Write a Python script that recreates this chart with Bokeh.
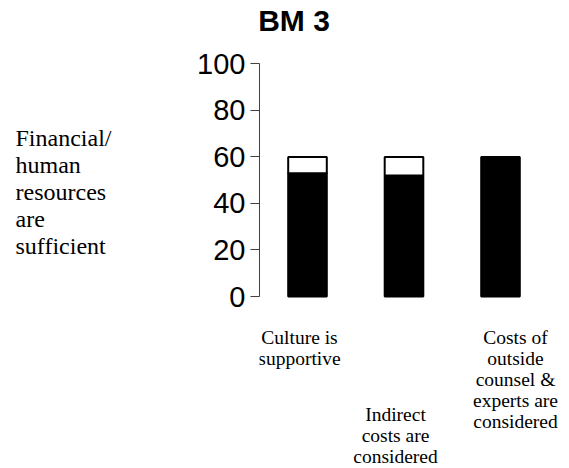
from bokeh.plotting import figure
from bokeh.layouts import row
from bokeh.models import Range1d, FixedTicker, Label, ColumnDataSource
from bokeh.core.properties import value
from bokeh.embed import file_html
from bokeh.resources import INLINE

# ---- data ----
title_text = "BM 3"
row_label = "Financial/\nhuman\nresources\nare\nsufficient"
categories = ["Culture is\nsupportive",
              "Indirect\ncosts are\nconsidered",
              "Costs of\noutside\ncounsel &\nexperts are\nconsidered"]
lower = [53, 52, 60]     # black part
upper = [7, 8, 0]        # white part
y_ticks = [0, 20, 40, 60, 80, 100]

# ---- layout (pixels) ----
H = 468
LW = 190                 # width of the left text panel
W = 569 - LW             # width of the chart panel
LEFT = 69                # space for the y axis inside chart panel
XPX = 96.5               # px per category step
YPX = 2.327              # px per y unit
X0 = -48 / XPX
X1 = X0 + (W - LEFT) / XPX
Y1 = 100 + 63.3 / YPX
Y0 = Y1 - H / YPX


def fx(px):
    return X0 + (px - LEFT) / XPX


def fy(py):
    return Y1 - py / YPX


# ---- left panel with the row label ----
lp = figure(width=LW, height=H, output_backend="svg", toolbar_location=None,
            x_range=Range1d(0, LW), y_range=Range1d(H, 0),
            min_border_left=0, min_border_right=0, min_border_top=0,
            min_border_bottom=0, x_axis_location=None, y_axis_location=None)
lp.grid.visible = False
lp.outline_line_color = None
lp.text(x=[15], y=[124.5], text=[row_label],
        text_font=value("Liberation Serif"), text_font_size="24px",
        text_align="left", text_baseline="top", text_line_height=1.04,
        text_color="black")

# ---- chart panel ----
p = figure(width=W, height=H, output_backend="svg", toolbar_location=None,
           x_range=Range1d(X0, X1), y_range=Range1d(Y0, Y1),
           min_border_left=LEFT, min_border_right=0, min_border_top=0,
           min_border_bottom=0, x_axis_location=None)
p.grid.visible = False
p.outline_line_color = None

xs = list(range(len(categories)))
src = ColumnDataSource(dict(x=xs, lower=lower, upper=upper))
p.vbar_stack(["lower", "upper"], x="x", width=0.4, source=src,
             fill_color=["black", "white"], line_color="black", line_width=2)

yax = p.yaxis[0]
yax.bounds = (0, 100)
yax.ticker = FixedTicker(ticks=y_ticks)
yax.minor_tick_in = 0
yax.minor_tick_out = 0
yax.major_tick_in = 0
yax.major_tick_out = 9
yax.major_label_standoff = 5
yax.major_label_text_font = "Liberation Sans"
yax.major_label_text_font_size = "29px"
yax.major_label_text_color = "black"
yax.axis_line_color = "#404040"
yax.major_tick_line_color = "#404040"

# category labels (staggered)
label_dx = [-8, -8.5, 15]
label_top = [fy(326.5), fy(403.5), fy(326.5)]
lab_src = ColumnDataSource(dict(x=xs, y=label_top, text=categories, dx=label_dx))
p.text(x="x", y="y", text="text", x_offset="dx", source=lab_src,
       text_font=value("Liberation Serif"), text_font_size="19.5px",
       text_align="center", text_baseline="top", text_line_height=1.0,
       text_color="black")

# title
p.add_layout(Label(x=fx(293.5 - LW), y=fy(20), text=title_text,
                   text_font="Liberation Sans", text_font_size="30px",
                   text_font_style="bold", text_align="center",
                   text_baseline="alphabetic", text_color="black"))

layout = row(lp, p, spacing=0)
open("out.html", "w").write(file_html(layout, INLINE))
